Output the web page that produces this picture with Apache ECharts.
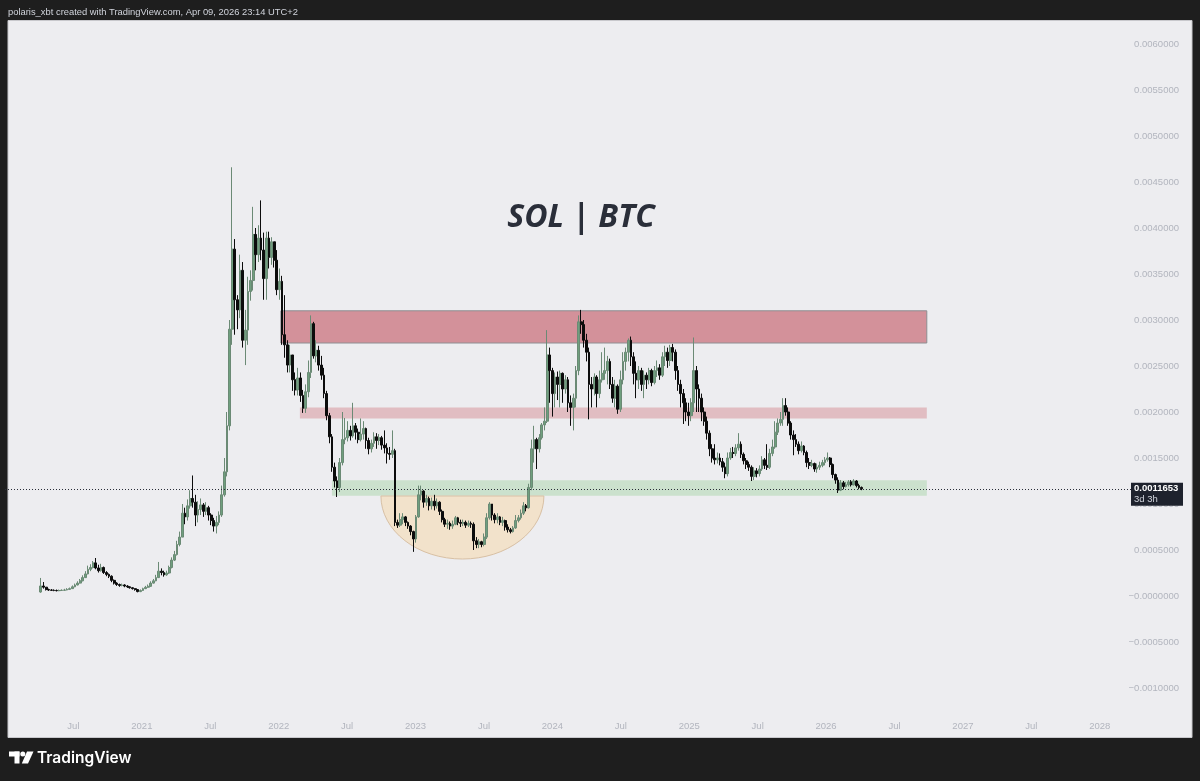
<!DOCTYPE html>
<html>
<head>
<meta charset="utf-8">
<title>SOL | BTC</title>
<script src="https://cdn.jsdelivr.net/npm/echarts@6.0.0/dist/echarts.min.js"></script>
<style>
  html, body { margin: 0; padding: 0; background: #1e1e1e; }
  #chart { width: 1200px; height: 781px; }
</style>
</head>
<body>
<div id="chart"></div>
<script>
// weekly candles, prices in µBTC (1e-6 BTC)
var startWeek = Date.UTC(2020, 3, 6);
var firstOpen = 43;
var closes = [
  109, 96, 70, 65, 62, 60, 58, 60, 62, 65,
  72, 80, 100, 120, 140, 165, 200, 240, 290, 310,
  360, 305, 275, 310, 255, 235, 215, 170, 140, 125,
  115, 120, 108, 100, 90, 80, 70, 48, 60, 80,
  95, 105, 140, 165, 200, 270, 255, 230, 250, 310,
  390, 450, 560, 640, 900, 860, 980, 1060, 1020, 880,
  940, 990, 920, 960, 880, 820, 760, 800, 880, 1100,
  1350, 1850, 2900, 3770, 3220, 3110, 3540, 2780, 2890, 3310,
  3430, 3930, 3710, 3890, 3760, 3450, 3890, 3680, 3850, 3650,
  3330, 3420, 2840, 2730, 2510, 2620, 2350, 2240, 2370, 2180,
  2040, 2220, 2430, 2960, 2610, 2670, 2510, 2400, 2200, 1960,
  1730, 1400, 1250, 1180, 1450, 1700, 1720, 1800, 1740, 1850,
  1780, 1700, 1760, 1820, 1690, 1600, 1660, 1730, 1690, 1720,
  1640, 1610, 1550, 1540, 1580, 800, 770, 830, 860, 800,
  760, 700, 620, 860, 1100, 1140, 1020, 1060, 980, 1030,
  980, 1020, 920, 830, 780, 790, 760, 780, 850, 800,
  790, 800, 770, 790, 780, 600, 560, 590, 560, 640,
  850, 1000, 880, 830, 860, 800, 820, 750, 720, 700,
  740, 820, 850, 900, 980, 960, 1180, 1600, 1700, 1600,
  1720, 1860, 1900, 2620, 2450, 2200, 2380, 2300, 2420, 2250,
  2350, 2100, 2050, 2150, 2450, 2980, 2950, 2780, 2650, 2300,
  2250, 2380, 2200, 2350, 2420, 2450, 2550, 2300, 2150, 2280,
  2030, 2350, 2550, 2650, 2780, 2600, 2420, 2350, 2450, 2300,
  2400, 2350, 2450, 2320, 2450, 2480, 2400, 2600, 2650, 2560,
  2700, 2650, 2450, 2300, 2200, 2100, 2000, 1960, 2100, 2450,
  2250, 2150, 2000, 1900, 1770, 1600, 1500, 1480, 1500, 1460,
  1400, 1330, 1500, 1560, 1550, 1610, 1650, 1540, 1470, 1430,
  1400, 1300, 1360, 1330, 1380, 1480, 1420, 1400, 1550, 1620,
  1780, 1880, 1920, 2070, 2000, 1880, 1750, 1700, 1650, 1580,
  1630, 1560, 1450, 1420, 1440, 1380, 1400, 1420, 1450, 1480,
  1500, 1430, 1320, 1260, 1150, 1230, 1190, 1210, 1240, 1210,
  1250, 1200, 1180, 1165.3
];
var highs = [
  196, 152, 90, 80, 75, 72, 70, 70, 72, 78,
  85, 92, 115, 135, 160, 185, 225, 270, 330, 345,
  380, 413, 340, 350, 320, 270, 245, 225, 180, 150,
  135, 135, 128, 118, 105, 95, 85, 75, 72, 90,
  110, 125, 160, 185, 230, 370, 300, 275, 275, 330,
  420, 490, 600, 700, 1000, 960, 1050, 1150, 1310, 1100,
  1030, 1060, 1010, 1020, 980, 900, 850, 870, 920, 1200,
  1500, 2000, 3000, 4660, 3880, 3270, 3710, 3630, 3110, 3470,
  3540, 4230, 4000, 4030, 4300, 3950, 3960, 3960, 3900, 3850,
  3760, 3560, 3480, 3270, 2780, 2730, 2620, 2430, 2480, 2430,
  2240, 2300, 2560, 3050, 2980, 2780, 2720, 2610, 2480, 2230,
  1990, 1760, 1450, 1300, 1500, 2000, 1935, 1900, 1850, 2100,
  1880, 1820, 1930, 1900, 1830, 1720, 1700, 1780, 1770, 1760,
  1740, 1800, 1660, 1620, 1800, 1600, 830, 900, 900, 870,
  810, 770, 710, 880, 1200, 1200, 1150, 1100, 1080, 1070,
  1100, 1060, 1030, 940, 850, 830, 810, 820, 870, 860,
  830, 830, 820, 820, 810, 800, 640, 620, 600, 680,
  900, 1020, 1000, 900, 900, 870, 860, 830, 780, 740,
  760, 880, 880, 940, 1020, 1000, 1220, 1700, 1850, 1720,
  1760, 1880, 2050, 2890, 2700, 2480, 2430, 2440, 2450, 2430,
  2400, 2380, 2180, 2200, 2500, 3050, 3110, 3000, 2850, 2700,
  2380, 2420, 2400, 2450, 2650, 2700, 2610, 2580, 2380, 2350,
  2300, 2450, 2650, 2700, 2800, 2820, 2650, 2550, 2500, 2480,
  2450, 2430, 2480, 2470, 2500, 2560, 2520, 2650, 2720, 2700,
  2730, 2740, 2680, 2500, 2350, 2250, 2150, 2100, 2150, 2810,
  2500, 2300, 2200, 2050, 1950, 1800, 1650, 1650, 1560, 1550,
  1500, 1450, 1560, 1610, 1620, 1650, 1770, 1680, 1560, 1500,
  1460, 1420, 1400, 1390, 1420, 1520, 1500, 1650, 1600, 1700,
  1900, 1930, 2000, 2150, 2150, 2050, 1900, 1800, 1760, 1680,
  1680, 1640, 1580, 1500, 1480, 1450, 1440, 1460, 1480, 1510,
  1560, 1510, 1440, 1330, 1290, 1260, 1250, 1240, 1260, 1260,
  1270, 1260, 1220, 1190
];
var lows = [
  35, 80, 60, 55, 55, 52, 50, 52, 55, 58,
  62, 70, 78, 95, 115, 135, 160, 195, 235, 270,
  300, 290, 255, 265, 240, 215, 195, 150, 125, 110,
  100, 105, 95, 88, 80, 70, 58, 40, 42, 55,
  75, 88, 100, 135, 160, 195, 225, 210, 220, 240,
  300, 380, 440, 540, 640, 780, 820, 950, 960, 760,
  800, 880, 860, 880, 820, 770, 700, 680, 770, 860,
  1080, 1300, 1800, 2730, 2840, 2900, 3020, 2700, 2510, 2730,
  3210, 3320, 3540, 3630, 3650, 3220, 3220, 3560, 3600, 3570,
  3270, 3220, 2730, 2590, 2430, 2430, 2230, 2180, 2180, 2110,
  1990, 1990, 2160, 2370, 2580, 2540, 2450, 2350, 2150, 1910,
  1660, 1350, 1180, 1076, 1130, 1420, 1650, 1680, 1690, 1720,
  1700, 1660, 1680, 1700, 1600, 1540, 1560, 1620, 1600, 1640,
  1590, 1550, 1440, 1480, 1500, 760, 740, 750, 780, 760,
  730, 660, 480, 580, 850, 1040, 960, 980, 930, 940,
  930, 950, 880, 800, 750, 730, 720, 730, 770, 770,
  750, 760, 740, 750, 740, 500, 520, 520, 530, 540,
  620, 830, 820, 790, 790, 770, 760, 710, 690, 680,
  690, 730, 800, 830, 880, 920, 950, 1150, 1450, 1380,
  1560, 1700, 1800, 1880, 2100, 1950, 2050, 2130, 2050, 2100,
  2200, 2000, 1850, 1800, 2050, 2400, 2850, 2700, 2550, 1920,
  2050, 2180, 2050, 2150, 2320, 2350, 2300, 2250, 2100, 2050,
  1980, 2000, 2300, 2450, 2550, 2500, 2300, 2150, 2250, 2230,
  2150, 2250, 2300, 2280, 2300, 2380, 2350, 2380, 2500, 2480,
  2500, 2550, 2350, 2230, 2050, 1870, 1900, 1850, 1900, 2000,
  2000, 2000, 1900, 1850, 1700, 1520, 1450, 1430, 1440, 1420,
  1350, 1280, 1300, 1480, 1500, 1520, 1580, 1500, 1430, 1380,
  1360, 1250, 1260, 1290, 1300, 1360, 1380, 1370, 1380, 1520,
  1600, 1750, 1850, 1850, 1960, 1850, 1700, 1530, 1620, 1540,
  1560, 1530, 1400, 1380, 1400, 1350, 1340, 1370, 1400, 1420,
  1460, 1400, 1280, 1220, 1120, 1140, 1160, 1180, 1190, 1190,
  1200, 1180, 1160, 1150
];
var lastPrice = 1165.3;

var xTickValues = [2020.5, 2021, 2021.5, 2022, 2022.5, 2023, 2023.5, 2024,
  2024.5, 2025, 2025.5, 2026, 2026.5, 2027, 2027.5, 2028];
var xTickNames = ['Jul', '2021', 'Jul', '2022', 'Jul', '2023', 'Jul', '2024',
  'Jul', '2025', 'Jul', '2026', 'Jul', '2027', 'Jul', '2028'];

// drawn zones: [from year, to year, low price, high price]
var zoneRed = [2022.016, 2026.736, 2750, 3100];
var zonePink = [2022.155, 2026.736, 1930, 2050];
var zoneGreen = [2022.389, 2026.736, 1090, 1258];
// rounded bottom: [from year, to year, rim price, bottom price]
var cupArc = [2022.747, 2023.938, 1087, 402];

function toYear(t) {
  var d = new Date(t);
  var y = d.getUTCFullYear();
  var a = Date.UTC(y, 0, 1), b = Date.UTC(y + 1, 0, 1);
  return y + (t - a) / (b - a);
}

var candleData = [];
for (var i = 0; i < closes.length; i++) {
  var o = i ? closes[i - 1] : firstOpen;
  var c = closes[i];
  var t = startWeek + i * 7 * 86400000;
  candleData.push([toYear(t), o, c, Math.min(lows[i], o, c), Math.max(highs[i], o, c)]);
}

function zone(z, style) {
  return [{ xAxis: z[0], yAxis: z[2], itemStyle: style }, { xAxis: z[1], yAxis: z[3] }];
}

var chart = echarts.init(document.getElementById('chart'));

chart.setOption({
  backgroundColor: '#1e1e1e',
  animation: false,
  grid: { left: 5, right: 66, top: 44, bottom: 93 },
  xAxis: {
    type: 'value',
    min: 2020,
    max: 2028.25,
    interval: 0.5,
    axisLine: { show: false },
    axisTick: { show: false },
    splitLine: { show: false },
    axisLabel: {
      color: '#b2b5be',
      fontSize: 9.5,
      fontFamily: 'Liberation Sans',
      margin: 33,
      formatter: function(v) {
        for (var k = 0; k < xTickValues.length; k++) {
          if (Math.abs(xTickValues[k] - v) < 1e-6) return xTickNames[k];
        }
        return '';
      }
    }
  },
  yAxis: {
    type: 'value',
    position: 'right',
    min: -1000,
    max: 6000,
    interval: 500,
    axisLine: { show: false },
    axisTick: { show: false },
    splitLine: { show: false },
    axisLabel: {
      color: '#b2b5be',
      fontSize: 9.5,
      fontFamily: 'Liberation Sans',
      align: 'right',
      margin: 45,
      formatter: function(v) {
        var s = (Math.abs(v) / 1e6).toFixed(7);
        return v <= 0 ? '\u2212' + s : s;
      }
    }
  },
  series: [
    {
      type: 'custom',
      z: 1,
      silent: true,
      data: [cupArc],
      renderItem: function(params, api) {
        var a = api.coord([api.value(0), api.value(2)]);
        var b = api.coord([api.value(1), api.value(2)]);
        var m = api.coord([api.value(0), api.value(3)]);
        var rx = (b[0] - a[0]) / 2, ry = m[1] - a[1];
        return {
          type: 'path',
          shape: {
            pathData: 'M' + a[0] + ' ' + a[1] + ' A' + rx + ' ' + ry + ' 0 0 0 ' + b[0] + ' ' + b[1] + ' Z',
            x: a[0], y: a[1], width: rx * 2, height: ry, layout: 'cover'
          },
          style: { fill: '#f2e2cb', stroke: '#d8c0a4', lineWidth: 1 }
        };
      }
    },
    {
      type: 'candlestick',
      data: candleData,
      barWidth: 2.3,
      itemStyle: {
        color: '#6f9f7e',
        color0: '#0c0c0c',
        borderColor: '#6b8a75',
        borderColor0: '#0c0c0c',
        borderWidth: 1
      },
      markArea: {
        silent: true,
        label: { show: false },
        data: [
          zone(zoneRed, { color: 'rgba(193,84,96,0.6)', borderColor: '#8e8e92', borderWidth: 1 }),
          zone(zonePink, { color: 'rgba(200,90,100,0.33)', borderWidth: 0 }),
          zone(zoneGreen, { color: 'rgba(130,200,130,0.32)', borderWidth: 0 })
        ]
      },
      markLine: {
        silent: true,
        symbol: ['none', 'none'],
        label: { show: false },
        lineStyle: { color: '#2a2e39', type: [1, 2], width: 1 },
        data: [{ yAxis: lastPrice }]
      }
    }
  ]
});

var py = chart.convertToPixel({ yAxisIndex: 0 }, lastPrice);

chart.setOption({
  graphic: [
    {
      type: 'rect', z: -10, silent: true,
      shape: { x: 8, y: 20.5, width: 1184, height: 717 },
      style: { fill: '#ededf0', stroke: '#c8c8cc', lineWidth: 1 }
    },
    {
      type: 'text', silent: true,
      style: {
        x: 8, y: 12, text: 'polaris_xbt created with TradingView.com, Apr 09, 2026 23:14 UTC+2',
        font: '9.4px "Liberation Sans"', fill: '#d1d4dc',
        verticalAlign: 'middle', textVerticalAlign: 'middle'
      }
    },
    {
      type: 'text', silent: true,
      style: {
        x: 581, y: 218, text: 'SOL | BTC',
        font: 'italic bold 32px "Open Sans"', fill: '#2a2e39',
        align: 'center', textAlign: 'center', verticalAlign: 'middle', textVerticalAlign: 'middle'
      }
    },
    // TradingView logo
    { type: 'rect', silent: true, shape: { x: 9, y: 751.5, width: 10.5, height: 5 }, style: { fill: '#ffffff' } },
    { type: 'rect', silent: true, shape: { x: 14.5, y: 751.5, width: 5, height: 12 }, style: { fill: '#ffffff' } },
    { type: 'circle', silent: true, shape: { cx: 22.8, cy: 754, r: 2.5 }, style: { fill: '#ffffff' } },
    { type: 'polygon', silent: true, shape: { points: [[27, 751.5], [33.5, 751.5], [28, 763.5], [21.8, 763.5]] }, style: { fill: '#ffffff' } },
    {
      type: 'text', silent: true,
      style: {
        x: 37, y: 758, text: 'TradingView',
        font: '600 15.5px Inter', fill: '#ffffff',
        verticalAlign: 'middle', textVerticalAlign: 'middle'
      }
    },
    // last price tag
    {
      type: 'rect', z: 100, silent: true,
      shape: { x: 1131, y: py - 6, width: 52, height: 23 },
      style: { fill: '#1e222d' }
    },
    {
      type: 'text', z: 101, silent: true,
      style: {
        x: 1134, y: py, text: (lastPrice / 1e6).toFixed(7),
        font: 'bold 9.5px "Liberation Sans"', fill: '#ffffff',
        verticalAlign: 'middle', textVerticalAlign: 'middle'
      }
    },
    {
      type: 'text', z: 101, silent: true,
      style: {
        x: 1134, y: py + 10.5, text: '3d 3h',
        font: '9.5px "Liberation Sans"', fill: '#d1d4dc',
        verticalAlign: 'middle', textVerticalAlign: 'middle'
      }
    }
  ]
});
</script>
</body>
</html>
